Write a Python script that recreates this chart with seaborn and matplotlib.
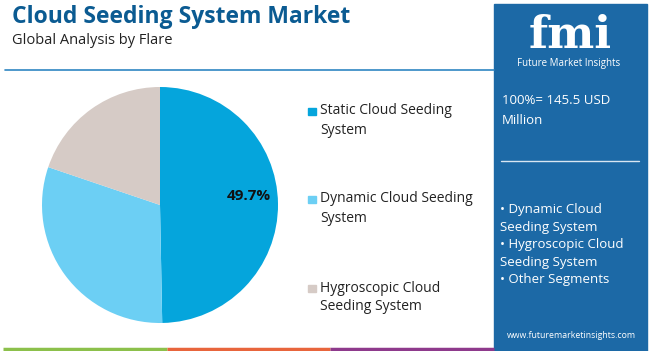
import matplotlib
matplotlib.use("Agg")
import matplotlib.pyplot as plt
from matplotlib.patches import Rectangle
import seaborn as sns

# data
segments = ["Static Cloud Seeding\nSystem", "Dynamic Cloud Seeding\nSystem", "Hygroscopic Cloud\nSeeding System"]
shares = [49.7, 30.5, 19.8]
colors = ["#05a5dc", "#6ccff4", "#d6cbc6"]
shown_label = "49.7%"
total_text = ["100%= 145.5 USD", "Million"]
bullets = ["• Dynamic Cloud\nSeeding System", "• Hygroscopic Cloud\nSeeding System", "• Other Segments"]

sns.set_style("white")
plt.rcParams['font.family'] = ['Open Sans', 'DejaVu Sans']

W, H = 650, 351
fig = plt.figure(figsize=(W / 100, H / 100), dpi=100)

# background axes in pixel coordinates
bg = fig.add_axes([0, 0, 1, 1])
bg.set_xlim(0, W)
bg.set_ylim(H, 0)
bg.axis("off")

bg.text(12, 17, "Cloud Seeding System Market", fontsize=16.5, fontweight="bold",
        color="#0b5b92", va="center", ha="left")
bg.text(12, 40, "Global Analysis by Flare", fontsize=10.5, color="#222222",
        va="center", ha="left")
bg.plot([5, 494], [69.5, 69.5], color="#2f86c2", lw=1.2)

# bottom coloured strip
for x0, x1, c in [(3, 167, "#8cc04b"), (167, 330, "#e8653c"), (330, 494, "#8e3a8c")]:
    bg.plot([x0, x1], [348.5, 348.5], color=c, lw=2.5, solid_capstyle="butt")

# right panel
bg.add_patch(Rectangle((494, 4), 153, 347, color="#1c69a6", zorder=1))
bg.text(570, 57, "fmi", fontsize=32, fontweight="bold", color="white",
        family="DejaVu Serif", ha="center", va="bottom", zorder=2)
bg.text(569, 58, "Future Market Insights", fontsize=7, color="white",
        ha="center", va="top", zorder=2)
for i, t in enumerate(total_text):
    bg.text(502, 101 + 20 * i, t, fontsize=9.5, color="white", ha="left",
            va="center", zorder=2)
bg.plot([501, 639], [161, 161], color="#d8e6f2", lw=1, zorder=2)
lines = [ln for b in bullets for ln in b.split("\n")]
for i, t in enumerate(lines):
    bg.text(500, 210 + 17.4 * i, t, fontsize=9.5, color="white", ha="left",
            va="center", zorder=2)
bg.text(571, 335, "www.futuremarketinsights.com", fontsize=6.3, color="white",
        ha="center", va="center", zorder=2)

# legend
ly = [111, 199, 288]
for y, t, c in zip(ly, segments, colors):
    bg.add_patch(Rectangle((308, y - 3.5), 7.5, 7.5, color=c))
    for j, ln in enumerate(t.split("\n")):
        bg.text(320, y + 19 * j, ln, fontsize=10, color="#222222",
                ha="left", va="center")

# pie
cx, cy, r = 160, 205, 118
ax = fig.add_axes([(cx - r) / W, (H - cy - r) / H, 2 * r / W, 2 * r / H])
ax.pie(shares, colors=colors, startangle=90, counterclock=False,
       wedgeprops=dict(linewidth=0))
ax.set_xlim(-1, 1)
ax.set_ylim(-1, 1)
ax.set_aspect("equal")
ax.text(0.75, 0.08, shown_label, fontsize=11, fontweight="bold", color="#111111",
        ha="center", va="center")

fig.savefig("out.png", dpi=100)
